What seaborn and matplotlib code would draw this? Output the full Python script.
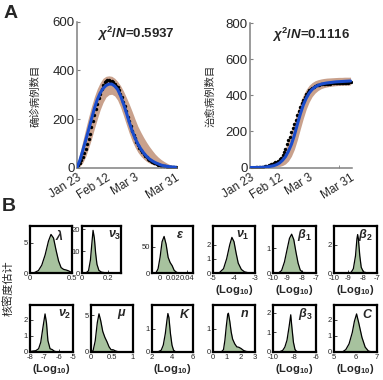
import matplotlib
matplotlib.use("Agg")
import matplotlib.pyplot as plt
import seaborn as sns
import numpy as np

sns.set_style("ticks")
plt.rcParams['font.family'] = ['Liberation Sans', 'Noto Sans CJK SC', 'DejaVu Sans']
plt.rcParams['mathtext.fontset'] = 'custom'
plt.rcParams['mathtext.it'] = 'Liberation Sans:italic:bold'
plt.rcParams['mathtext.rm'] = 'Liberation Sans:bold'
plt.rcParams['mathtext.bf'] = 'Liberation Sans:bold'

# ---- panel A data (days since Jan 23) ----
date_ticks = [0, 20, 40, 68]
date_labels = ['Jan 23', 'Feb 12', 'Mar 3', 'Mar 31']
fit_days = list(range(0, 69, 2))
obs_days = list(range(0, 69))

conf_fit = [0, 30, 70, 112, 155, 200, 243, 280, 307, 326, 338, 344, 344, 336, 322, 297, 264, 228, 188, 152,
            122, 97, 77, 60, 46, 35, 27, 20, 15, 10, 7, 5, 3, 2, 1]
conf_hi = [10, 60, 110, 160, 208, 252, 292, 325, 350, 368, 376, 378, 376, 368, 355, 338, 316, 290, 262, 232,
           200, 170, 146, 124, 104, 86, 70, 55, 43, 33, 25, 18, 12, 8, 5]
conf_lo = [0, 5, 20, 45, 80, 118, 160, 200, 238, 268, 290, 300, 302, 295, 278, 250, 215, 178, 142, 110,
           84, 63, 47, 35, 25, 18, 13, 9, 6, 4, 3, 2, 1, 0, 0]
conf_obs = [5, 12, 20, 32, 45, 60, 78, 98, 118, 140, 165, 190, 215, 240, 262, 285, 305, 325, 340, 352,
            358, 362, 360, 356, 358, 352, 345, 338, 330, 318, 305, 290, 272, 252, 232, 210, 190, 170, 152, 136,
            120, 106, 94, 82, 72, 63, 55, 48, 42, 36, 31, 27, 23, 20, 17, 14, 12, 10, 8, 7,
            6, 5, 4, 3, 3, 2, 2, 1, 1]

cured_fit = [0, 0, 0, 0, 1, 2, 4, 7, 10, 16, 25, 40, 60, 90, 128, 178, 238, 295, 345, 383,
             412, 432, 446, 455, 461, 465, 468, 470, 472, 474, 475, 476, 477, 478, 479]
cured_hi = [0, 0, 0, 1, 2, 4, 7, 12, 20, 32, 50, 75, 108, 150, 200, 255, 310, 360, 400, 432,
            455, 470, 480, 486, 490, 493, 495, 496, 497, 498, 499, 499, 500, 500, 500]
cured_lo = [0, 0, 0, 0, 0, 0, 1, 2, 3, 4, 6, 11, 20, 36, 62, 100, 152, 212, 270, 322,
            362, 392, 412, 426, 436, 442, 446, 449, 451, 453, 454, 455, 456, 456, 457]
cured_obs = [0, 0, 0, 0, 1, 1, 2, 3, 4, 5, 7, 9, 11, 14, 17, 20, 24, 28, 33, 38,
             45, 55, 68, 85, 105, 128, 150, 170, 195, 220, 240, 262, 290, 315, 335, 358, 375, 392, 405, 418,
             428, 436, 442, 447, 451, 454, 456, 458, 460, 461, 462, 463, 464, 465, 465, 466, 466, 467, 467, 468,
             468, 469, 469, 469, 470, 470, 470, 471, 471]

# ---- panel B data (density curves) ----
lam_x = [0, 0.05, 0.10, 0.14, 0.18, 0.22, 0.25, 0.28, 0.31, 0.34, 0.37, 0.40, 0.43, 0.46, 0.50]
lam_y = [0, 0.05, 0.4, 1.3, 3.0, 5.3, 6.4, 5.8, 3.8, 2.0, 0.9, 0.6, 0.5, 0.35, 0.05]
nu3_x = [0, 0.03, 0.05, 0.065, 0.075, 0.085, 0.095, 0.105, 0.115, 0.13, 0.15, 0.18, 0.22, 0.3]
nu3_y = [0, 0, 1.0, 6, 13, 19.5, 16, 9, 4, 1.2, 0.4, 0.1, 0.05, 0]
eps_x = [-0.012, -0.006, -0.003, 0.0, 0.003, 0.006, 0.009, 0.012, 0.015, 0.018, 0.021, 0.025, 0.03, 0.049]
eps_y = [0, 0.5, 8, 30, 60, 70, 55, 30, 20, 14, 5, 1, 0.2, 0]
nu1_x = [-5, -4.7, -4.5, -4.35, -4.2, -4.1, -4.0, -3.9, -3.8, -3.65, -3.5, -3.3, -3]
nu1_y = [0, 0.02, 0.3, 1.0, 2.0, 2.5, 2.2, 1.4, 0.7, 0.25, 0.08, 0.01, 0]
b1_x = [-10, -9.6, -9.4, -9.2, -9.0, -8.85, -8.7, -8.55, -8.4, -8.25, -8.1, -7.9, -7]
b1_y = [0, 0.01, 0.1, 0.45, 1.0, 1.4, 1.57, 1.35, 0.85, 0.4, 0.12, 0.02, 0]
b2_x = [-10, -9.0, -8.8, -8.65, -8.5, -8.4, -8.35, -8.3, -8.2, -8.1, -7.95, -7.7, -7]
b2_y = [0, 0, 0.05, 0.3, 1.2, 2.4, 2.7, 2.4, 1.2, 0.4, 0.08, 0.01, 0]
nu2_x = [-8, -7.8, -7.6, -7.4, -7.25, -7.1, -6.95, -6.85, -6.75, -6.6, -6.45, -6.3, -6.1, -5]
nu2_y = [0.02, 0.06, 0.08, 0.2, 0.6, 1.5, 2.35, 1.8, 0.7, 0.2, 0.15, 0.05, 0, 0]
mu_x = [0, 0.05, 0.1, 0.15, 0.19, 0.23, 0.28, 0.33, 0.38, 0.43, 0.48, 0.53, 0.58, 0.65, 1]
mu_y = [0, 0.2, 1.5, 4.0, 5.2, 4.3, 2.8, 2.0, 1.4, 0.7, 0.3, 0.3, 0.15, 0.03, 0]
k_x = [2, 2.6, 2.9, 3.1, 3.3, 3.45, 3.55, 3.65, 3.8, 3.95, 4.1, 4.3, 6]
k_y = [0, 0.01, 0.08, 0.3, 0.8, 1.35, 1.67, 1.5, 0.8, 0.3, 0.08, 0.01, 0]
n_x = [0, 0.6, 0.75, 0.85, 0.95, 1.05, 1.1, 1.2, 1.3, 1.4, 1.55, 1.7, 1.85, 2.0, 2.2, 2.4, 3]
n_y = [0, 0.01, 0.1, 0.5, 1.1, 1.6, 1.65, 1.3, 0.85, 0.55, 0.35, 0.22, 0.2, 0.15, 0.06, 0.02, 0]
b3_x = [-10, -9.4, -9.1, -8.9, -8.7, -8.5, -8.35, -8.25, -8.1, -7.95, -7.8, -7.5, -6]
b3_y = [0, 0.01, 0.08, 0.25, 0.6, 1.3, 1.9, 1.3, 0.5, 0.12, 0.03, 0, 0]
c_x = [5, 5.4, 5.55, 5.7, 5.85, 5.95, 6.05, 6.15, 6.3, 6.45, 6.6, 6.75, 7]
c_y = [0, 0.01, 0.15, 0.5, 1.2, 1.9, 2.35, 1.8, 0.9, 0.3, 0.06, 0.01, 0]

W, H = 383, 380
fig = plt.figure(figsize=(W / 100, H / 100), dpi=100)


def px_axes(l, t, r, b):
    return fig.add_axes([l / W, 1 - b / H, (r - l) / W, (b - t) / H])


blue = '#1a4ccc'
band = '#c9a18c'
green = '#a7c29e'

# ---- panel A ----
panels_a = [
    (px_axes(77, 22, 177, 167.5), conf_fit, conf_lo, conf_hi, conf_obs, 600, '0.5937', '确诊病例数目', 35),
    (px_axes(250, 23, 352, 167.5), cured_fit, cured_lo, cured_hi, cured_obs, 800, '0.1116', '治愈病例数目', 210),
]
for ax, fit, lo, hi, obs, ymax, chi, ylab, ylab_x in panels_a:
    ax.fill_between(fit_days, lo, hi, color=band, lw=0, zorder=1)
    sns.scatterplot(x=obs_days, y=obs, color='black', s=6, linewidth=0, ax=ax, zorder=2)
    sns.lineplot(x=fit_days, y=fit, color=blue, lw=2.2, ax=ax, zorder=3)
    ax.set_xlim(0, 69)
    ax.set_ylim(0, ymax)
    ax.set_yticks(list(range(0, ymax + 1, 200)))
    ax.set_xticks(date_ticks)
    ax.set_xticklabels(date_labels, rotation=32, ha='right', rotation_mode='anchor', fontsize=8.5)
    ax.set_xticks([20, 40, 60], minor=True)
    ax.tick_params(axis='x', which='major', length=0, pad=3)
    ax.tick_params(axis='x', which='minor', direction='in', length=2.5, color='#808080')
    ax.tick_params(axis='y', direction='in', length=2.5, color='#808080', labelsize=9.5, pad=1.5)
    for s in ['top', 'right']:
        ax.spines[s].set_visible(False)
    for s in ['left', 'bottom']:
        ax.spines[s].set_color('#808080')
        ax.spines[s].set_linewidth(1.1)
    ax.text(0.98, 0.98, r'$\chi^2/N$=' + chi, transform=ax.transAxes, ha='right', va='top',
            fontsize=9.5, fontweight='bold')
    fig.text(ylab_x / W, 1 - 96 / H, ylab, rotation=90, ha='center', va='center', fontsize=7.5,
             family=['Noto Sans CJK SC', 'DejaVu Sans'])

fig.text(4 / W, 1 - 5 / H, 'A', fontsize=14, fontweight='bold', ha='left', va='top')
fig.text(2 / W, 1 - 198 / H, 'B', fontsize=14, fontweight='bold', ha='left', va='top')
fig.text(8 / W, 1 - 288 / H, '核密度估计', rotation=90, ha='center', va='center', fontsize=8,
         family=['Noto Sans CJK SC', 'DejaVu Sans'])

# ---- panel B ----
log_lab = r'(Log$_{10}$)'
panels_b = [
    ((30, 226, 72, 273), lam_x, lam_y, (0, 0.5), [0, 0.5], ['0', '0.5'], 7.8, [0, 5], r'$\lambda$', 0.71, False),
    ((82, 226, 121, 273), nu3_x, nu3_y, (0, 0.3), [0, 0.2], ['0', '0.2'], 21.5, [0, 10, 20], r'$\nu_3$', 0.84, False),
    ((152, 226, 193, 273), eps_x, eps_y, (-0.012, 0.049), [0, 0.02, 0.04], ['0', '0.02', '0.04'], 90, [0, 50],
     r'$\varepsilon$', 0.68, False),
    ((213, 226, 255, 273), nu1_x, nu1_y, (-5, -3), [-5, -4, -3], ['-5', '-4', '-3'], 3.3, [0, 1, 2], r'$\nu_1$', 0.72, True),
    ((273, 226, 316, 273), b1_x, b1_y, (-10, -7), [-10, -9, -8, -7], ['-10', '-9', '-8', '-7'], 1.9, [0, 1],
     r'$\beta_1$', 0.74, True),
    ((334, 226, 377, 273), b2_x, b2_y, (-10, -7), [-10, -9, -8, -7], ['-10', '-9', '-8', '-7'], 3.3, [0, 2],
     r'$\beta_2$', 0.73, True),
    ((30, 305, 73, 352), nu2_x, nu2_y, (-8, -5), [-8, -7, -6, -5], ['-8', '-7', '-6', '-5'], 2.9, [0, 1, 2],
     r'$\nu_2$', 0.81, True),
    ((91, 305, 133, 352), mu_x, mu_y, (0, 1), [0, 0.5, 1], ['0', '0.5', '1'], 6.4, [0, 5], r'$\mu$', 0.73, False),
    ((152, 305, 193, 352), k_x, k_y, (2, 6), [2, 4, 6], ['2', '4', '6'], 2.04, [0, 1], r'$K$', 0.8, True),
    ((213, 305, 255, 352), n_x, n_y, (0, 3), [0, 1, 2, 3], ['0', '1', '2', '3'], 2.0, [0, 1], r'$n$', 0.76, False),
    ((273, 305, 316, 352), b3_x, b3_y, (-10, -6), [-10, -8, -6], ['-10', '-8', '-6'], 2.4, [0, 1, 2],
     r'$\beta_3$', 0.74, True),
    ((334, 305, 377, 352), c_x, c_y, (5, 7), [5, 6, 7], ['5', '6', '7'], 2.9, [0, 1, 2], r'$C$', 0.79, True),
]
for box, xs, ys, xlim, xt, xtl, ytop, yt, lab, lab_x, is_log in panels_b:
    ax = px_axes(*box)
    ax.fill_between(xs, 0, ys, color=green, lw=0)
    sns.lineplot(x=xs, y=ys, color='black', lw=0.9, ax=ax)
    ax.set_xlim(*xlim)
    ax.set_ylim(0, ytop)
    ax.set_xticks(xt)
    ax.set_xticklabels(xtl)
    ax.set_yticks(yt)
    ax.tick_params(direction='in', length=2, width=0.6, labelsize=5.5, pad=1.5)
    for s in ax.spines.values():
        s.set_color('black')
        s.set_linewidth(1.6)
    ax.text(lab_x, 0.8, lab, transform=ax.transAxes, ha='center', va='center', fontsize=9)
    if is_log:
        ax.set_xlabel(log_lab, fontsize=8, fontweight='bold', labelpad=1)

fig.savefig('out.png', dpi=100)
